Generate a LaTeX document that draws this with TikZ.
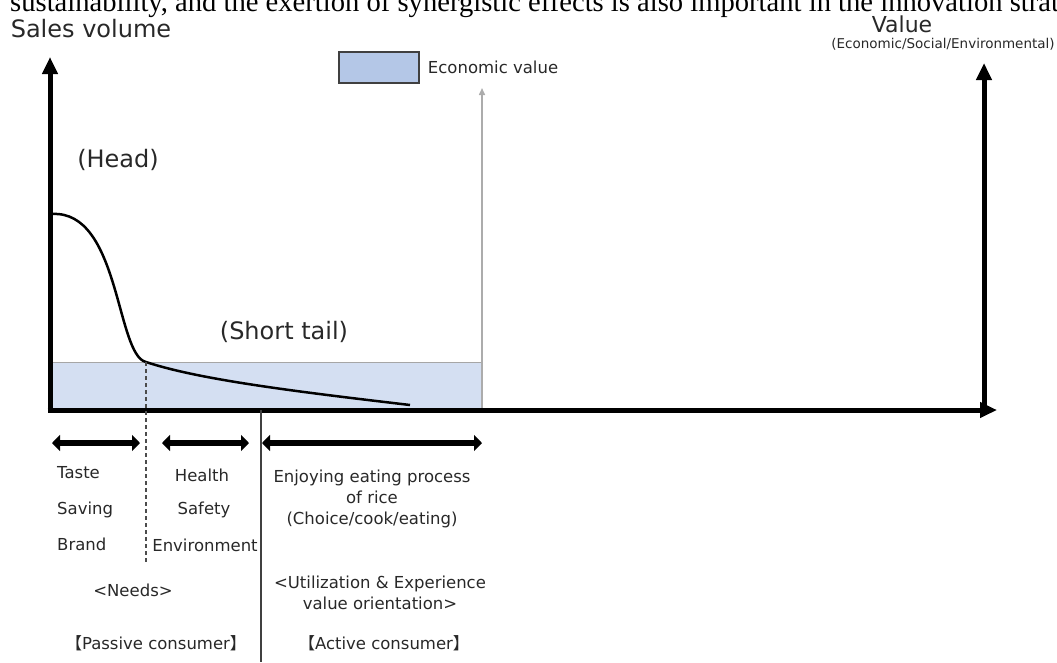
\documentclass[tikz,border=0pt]{standalone}
\usepackage{fontspec}
\setmainfont{DejaVu Sans}
\newfontfamily\cjk{Noto Sans CJK JP}
\newfontfamily\pageserif{Liberation Serif}
\usetikzlibrary{arrows.meta,positioning}

\definecolor{econblue}{RGB}{180,199,231}
\definecolor{bandblue}{RGB}{212,223,242}
\definecolor{inkgray}{RGB}{40,40,40}

\tikzset{
  axis/.style={line width=5pt, -{Triangle[length=17pt,width=15pt]}},
  span/.style={line width=6pt, {Triangle[length=8pt,width=16pt]}-{Triangle[length=8pt,width=16pt]}},
  lbl/.style={inner sep=0pt, text=inkgray, font=\fontsize{16.5}{21}\selectfont},
  big/.style={inner sep=0pt, text=inkgray, font=\fontsize{24}{28}\selectfont},
}

\begin{document}
\begin{tikzpicture}[x=1pt,y=-1pt]
        \useasboundingbox (0,0) rectangle (1057,662);
        \clip (0,0) rectangle (1057,662);
        \node[anchor=base west, inner sep=0pt, font=\pageserif\fontsize{28.6}{32}\selectfont] (pageline) at (10,11) {sustainability, and the exertion of synergistic effects is also important in the innovation strat};  % Cut Page Text
        \coordinate (origin) at (50,410);
        \coordinate (volumetop) at (50,57);
        \coordinate (valuebase) at (984,412);
        \coordinate (valuetop) at (984,63);
        \coordinate (xend) at (997,410);
        \coordinate (knee) at (146,362);
        \fill[bandblue] (50,362) rectangle (482,410);  % Economic Band
        \draw[gray!70, line width=0.8pt] (50,362) -- (482,362);  % Band Edge
        \draw[gray!65, line width=1.5pt, -{Triangle[length=7pt,width=6pt]}] (482,410) -- (482,88);  % Value Arrow
        \draw[axis] ([yshift=2.5pt]origin) -- (volumetop);  % Sales Axis
        \draw[axis] ([xshift=-2.5pt]origin) -- (xend);  % Horizontal Axis
        \draw[axis] (valuebase) -- (valuetop);  % Value Axis
        \draw[black, line width=2.5pt] (52,214) .. controls (120,210) and (116,355) .. (knee);  % Head Curve
        \draw[black, line width=2.5pt] (knee) .. controls (200,380) and (300,392) .. (410,405);  % Tail Curve
        \draw[black!70, line width=1.5pt, dash pattern=on 4pt off 3pt] (knee) -- (146,563);  % Dashed Divider
        \draw[black!75, line width=1.2pt] (261,410) -- (261,662);  % Solid Divider
        \draw[span] (52,443) -- (140,443);  % Needs Span
        \draw[span] (162,443) -- (249,443);  % Safety Span
        \draw[span] (262,443) -- (482,443);  % Experience Span
        \node[draw=black!75, line width=1.5pt, fill=econblue, minimum width=80pt, minimum height=31pt, inner sep=0pt] (key) at (379,67.5) {};  % Legend Box
        \node[lbl, right=8pt of key] (keytext) {Economic value};
        \node[big] (salesvolume) at (91,29) {Sales volume};
        \node[big, font=\fontsize{22}{26}\selectfont] (value) at (902,24) {Value};
        \node[lbl, font=\fontsize{13.5}{16}\selectfont] (valuekinds) at (943,44) {(Economic/Social/Environmental)};
        \node[big] (head) at (118,160) {(Head)};
        \node[big] (shorttail) at (284,332) {(Short tail)};
        \node[lbl, anchor=west] (taste) at (57,473) {Taste};
        \node[lbl, anchor=west] (saving) at (57,510) {Saving};
        \node[lbl, anchor=west] (brand) at (57,544) {Brand};
        \node[lbl] (health) at (202,475) {Health};
        \node[lbl] (safety) at (204,510) {Safety};
        \node[lbl] (environment) at (205,545) {Environment};
        \node[lbl, align=center] (enjoying) at (372,499) {Enjoying eating process\\of rice\\(Choice/cook/eating)};
        \node[lbl] (needs) at (133,590) {<Needs>};
        \node[lbl, align=center] (utilization) at (380,593) {<Utilization \& Experience\\value orientation>};
        \node[lbl] (passive) at (156,643) {{\cjk 【}Passive consumer{\cjk 】}};
        \node[lbl] (active) at (384,643) {{\cjk 【}Active consumer{\cjk 】}};
    \end{tikzpicture}
\end{document}
